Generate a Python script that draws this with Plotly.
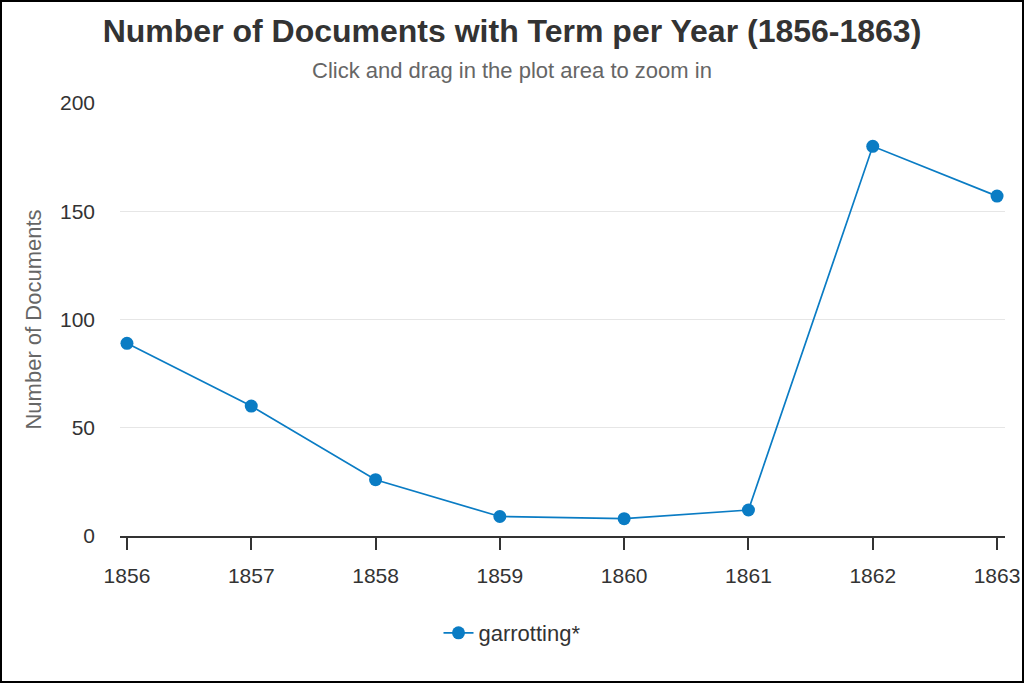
import plotly.graph_objects as go

years = [1856, 1857, 1858, 1859, 1860, 1861, 1862, 1863]
doc_counts = [89, 60, 26, 9, 8, 12, 180, 157]
series_name = "garrotting*"
y_ticks = [0, 50, 100, 150, 200]

W, H = 1024, 683
left, right, top, bottom = 120, 19, 103, 147
pw, ph = W - left - right, H - top - bottom

fig = go.Figure()
fig.add_trace(go.Scatter(
    x=years,
    y=doc_counts,
    name=series_name,
    mode="lines+markers",
    line=dict(color="#0a7cc4", width=1.7),
    marker=dict(color="#0a7cc4", size=13),
    showlegend=True,
))

# outer border round the whole picture
fig.add_shape(
    type="rect", xref="paper", yref="paper",
    x0=(1 - left) / pw, x1=(W - 1 - left) / pw,
    y0=(top + ph - (H - 1)) / ph, y1=(top + ph - 1) / ph,
    line=dict(color="#000000", width=2), fillcolor="rgba(0,0,0,0)",
    layer="above",
)

fig.update_layout(
    width=W,
    height=H,
    margin=dict(l=left, r=right, t=top, b=bottom),
    paper_bgcolor="white",
    plot_bgcolor="white",
    font=dict(family="Liberation Sans, Arial, sans-serif", color="#333333"),
    title=dict(
        text="<b>Number of Documents with Term per Year (1856-1863)</b>",
        x=(512 - left) / pw, xref="paper", xanchor="center",
        y=1 - 31 / H, yanchor="middle",
        font=dict(size=32, color="#333333"),
    ),
    annotations=[dict(
        text="Click and drag in the plot area to zoom in",
        xref="paper", yref="paper",
        x=(512 - left) / pw, y=(top + ph - 70) / ph,
        xanchor="center", yanchor="middle", showarrow=False,
        font=dict(size=22, color="#666666"),
    )],
    legend=dict(
        orientation="h", x=(512 - left) / pw, xanchor="center",
        y=(top + ph - 633) / ph, yanchor="middle",
        font=dict(size=22, color="#333333"),
    ),
    showlegend=True,
)

fig.update_xaxes(
    range=[1855.944, 1863.064],
    tickvals=years,
    ticktext=[str(y) for y in years],
    ticks="outside", ticklen=12, tickwidth=1.5, tickcolor="#333333",
    showline=True, linecolor="#333333", linewidth=1.5,
    showgrid=False, zeroline=False,
    tickfont=dict(size=21, color="#333333"),
    ticklabelstandoff=8,
    automargin=False,
)
fig.update_yaxes(
    range=[0, 200],
    tickvals=y_ticks,
    showgrid=True, gridcolor="#e6e6e6", gridwidth=1,
    zeroline=False, showline=False,
    ticks="", ticklabelstandoff=24,
    tickfont=dict(size=21, color="#333333"),
    title=dict(text="Number of Documents", font=dict(size=22, color="#666666"), standoff=12),
    automargin=False,
)

fig.write_html(
    "out.html",
    config={"displayModeBar": False},
    post_script=(
        "document.body.style.margin='0';"
        "document.body.style.overflow='hidden';"
        "document.documentElement.style.overflow='hidden';"
    ),
)
